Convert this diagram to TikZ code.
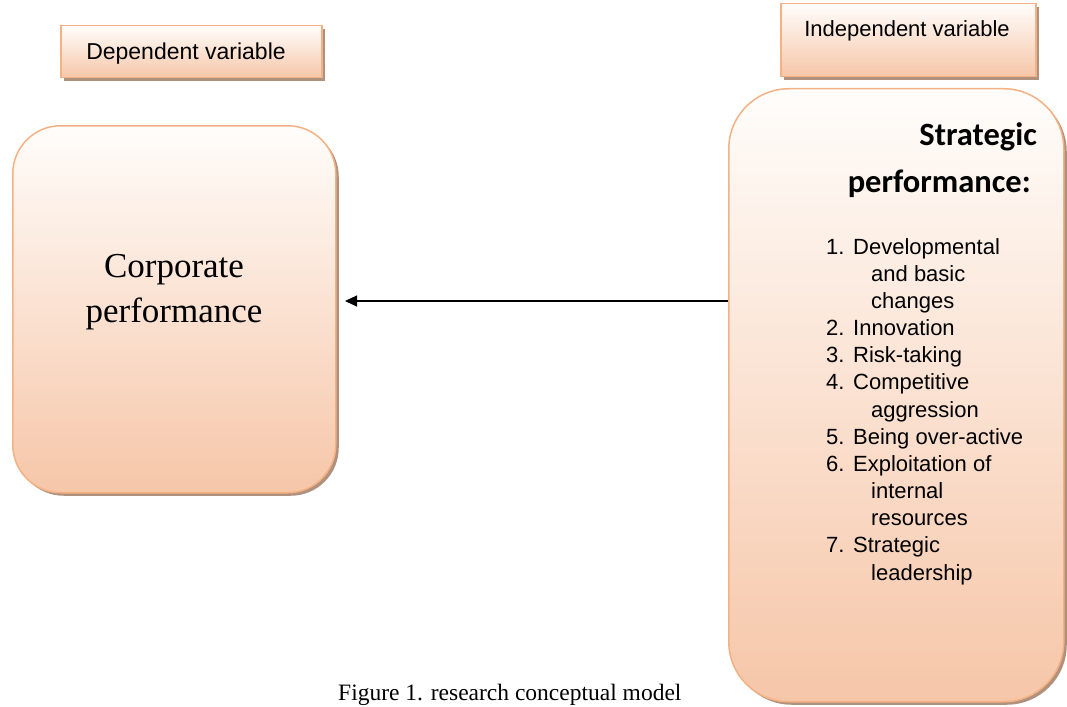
\documentclass[tikz,border=0pt]{standalone}
\usepackage{fontspec}
\setmainfont{Liberation Serif}
\newfontfamily\tahfont{Liberation Sans}
\newfontfamily\calfont{Carlito}
\usetikzlibrary{shadows,arrows.meta}
\definecolor{edgec}{RGB}{244,177,131}
\definecolor{topc}{RGB}{255,253,251}
\definecolor{botc}{RGB}{246,198,168}
\definecolor{shadc}{RGB}{175,145,125}
\begin{document}
\begin{tikzpicture}[x=1pt,y=-1pt,
  box/.style={draw=edgec,line width=1.5pt,top color=topc,bottom color=botc,
    drop shadow={shadow xshift=3pt,shadow yshift=-3pt,fill=shadc,opacity=1},
    anchor=north west,inner sep=0pt},
  sans/.style={font=\tahfont\fontsize{#1}{#1}\selectfont},
  listline/.style={anchor=base west,inner sep=0pt,font=\tahfont\fontsize{22}{26}\selectfont},
  conn/.style={line width=1.2pt,-{Triangle[length=12pt,width=11pt]}}]
\useasboundingbox (0,0) rectangle (1067,706);
% boxes
\node[box,minimum width=323pt,minimum height=367pt,rounded corners=48pt] (lb) at (12,125) {};
\node[box,minimum width=335pt,minimum height=613pt,rounded corners=60pt] (rb) at (728,88) {};
\node[box,minimum width=261pt,minimum height=52pt] (db) at (60,25) {};
\node[box,minimum width=255pt,minimum height=73pt] (ib) at (780,3) {};
% header texts
\node[sans=23,anchor=base,inner sep=0pt] (dt) at (186,60) {Dependent variable};
\node[sans=22,anchor=base,inner sep=0pt] (it) at (907,37) {Independent variable};
% left text
\node[anchor=base,inner sep=0pt,font=\fontsize{35}{40}\selectfont] (c1) at (174,277) {Corporate};
\node[anchor=base,inner sep=0pt,font=\fontsize{35}{40}\selectfont] (c2) at (174,322) {performance};
% right heading
\node[anchor=base east,inner sep=0pt,font=\calfont\bfseries\fontsize{32.5}{36}\selectfont] (s1) at (1037,145) {Strategic};
\node[anchor=base east,inner sep=0pt,font=\calfont\bfseries\fontsize{32.5}{36}\selectfont] (s2) at (1031,192) {performance:};
% list
\foreach \t/\xx [count=\i from 0] in {
  {\makebox[27pt][l]{1.}Developmental}/826,
  {and basic}/871,
  {changes}/871,
  {\makebox[27pt][l]{2.}Innovation}/826,
  {\makebox[27pt][l]{3.}Risk-taking}/826,
  {\makebox[27pt][l]{4.}Competitive}/826,
  {aggression}/871,
  {\makebox[27pt][l]{5.}Being over-active}/826,
  {\makebox[27pt][l]{6.}Exploitation of}/826,
  {internal}/871,
  {resources}/871,
  {\makebox[27pt][l]{7.}Strategic}/826,
  {leadership}/871}
  \node[listline] (l\i) at (\xx,254+27.17*\i) {\t};
% connector
\coordinate (tipc) at (345,301);
\draw[conn] (rb.west |- tipc) -- (tipc);
% caption
\node[anchor=base west,inner sep=0pt,font=\fontsize{23.5}{28}\selectfont] (cap) at (338,700) {Figure 1. research conceptual model};
\end{tikzpicture}
\end{document}
